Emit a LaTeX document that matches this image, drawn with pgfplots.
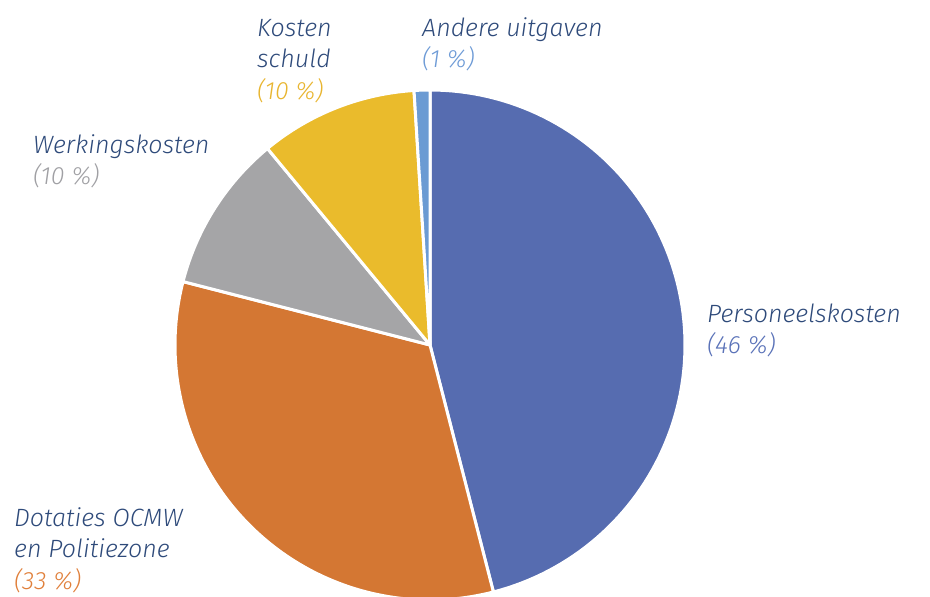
\documentclass[border=0pt]{standalone}
\usepackage{fontspec}
\setmainfont{Fira Sans}[ItalicFont={Fira Sans Light Italic}]
\usepackage{pgfplots}
\usepackage{pgfplotstable}
\pgfplotsset{compat=1.18}
\definecolor{cPers}{HTML}{566CB0}
\definecolor{cDot}{HTML}{D47733}
\definecolor{cWerk}{HTML}{A5A5A7}
\definecolor{cKost}{HTML}{EABB2C}
\definecolor{cAnd}{HTML}{6B9BD3}
\definecolor{tName}{HTML}{2E4A7A}
\definecolor{tPers}{HTML}{5A72B8}
\definecolor{tDot}{HTML}{E07F3A}
\definecolor{tWerk}{HTML}{A0A0A4}
\definecolor{tKost}{HTML}{E8B530}
\definecolor{tAnd}{HTML}{6E9BD6}
% shares in percent, in clockwise order from 12 o'clock
\pgfplotstableread{
name value
Personeelskosten 46
Dotaties 33
Werkingskosten 10
Kostenschuld 10
Andere 1
}\piedata
\newcommand{\slice}[3]{% start %, end %, colour
  \pgfmathsetmacro{\aS}{90-3.6*#1}%
  \pgfmathsetmacro{\aE}{90-3.6*#2}%
  \addplot[fill=#3, draw=white, line width=3pt, line join=round,
    samples at={-1,0,1,...,100,101}, variable=\t]
    ({430+((\t<0||\t>100)?0:255)*cos(\aS+(\aE-\aS)*\t/100)},
     {252+((\t<0||\t>100)?0:255)*sin(\aS+(\aE-\aS)*\t/100)});
}
\begin{document}
\begin{tikzpicture}
\begin{axis}[
  width=930pt, height=597pt, scale only axis,
  xmin=0, xmax=930, ymin=0, ymax=597,
  hide axis, clip mode=individual,
]
\pgfplotstablegetelem{0}{value}\of\piedata \let\vA\pgfplotsretval
\pgfplotstablegetelem{1}{value}\of\piedata \let\vB\pgfplotsretval
\pgfplotstablegetelem{2}{value}\of\piedata \let\vC\pgfplotsretval
\pgfplotstablegetelem{3}{value}\of\piedata \let\vD\pgfplotsretval
\pgfplotstablegetelem{4}{value}\of\piedata \let\vE\pgfplotsretval
\pgfmathsetmacro{\cA}{\vA}
\pgfmathsetmacro{\cB}{\cA+\vB}
\pgfmathsetmacro{\cC}{\cB+\vC}
\pgfmathsetmacro{\cD}{\cC+\vD}
\pgfmathsetmacro{\cE}{\cD+\vE}
\slice{0}{\cA}{cPers}
\slice{\cA}{\cB}{cDot}
\slice{\cB}{\cC}{cWerk}
\slice{\cC}{\cD}{cKost}
\slice{\cD}{\cE}{cAnd}
\tikzset{lab/.style={anchor=base west, inner sep=0pt, font=\fontsize{25}{31}\selectfont\itshape}}
\node[lab, text=tName] at (axis cs:257,560) {Kosten};
\node[lab, text=tName] at (axis cs:257,529) {schuld};
\node[lab, text=tKost] at (axis cs:257,497) {(10 \%)};
\node[lab, text=tName] at (axis cs:422,560) {Andere uitgaven};
\node[lab, text=tAnd] at (axis cs:422,529) {(1 \%)};
\node[lab, text=tName] at (axis cs:33,443) {Werkingskosten};
\node[lab, text=tWerk] at (axis cs:33,412) {(10 \%)};
\node[lab, text=tName] at (axis cs:707,274) {Personeelskosten};
\node[lab, text=tPers] at (axis cs:707,243) {(46 \%)};
\node[lab, text=tName] at (axis cs:14,70) {Dotaties OCMW};
\node[lab, text=tName] at (axis cs:14,39) {en Politiezone};
\node[lab, text=tDot] at (axis cs:14,7) {(33 \%)};
\end{axis}
\pgfresetboundingbox
\path[use as bounding box] (current axis.south west) rectangle (current axis.north east);
\end{tikzpicture}
\end{document}
